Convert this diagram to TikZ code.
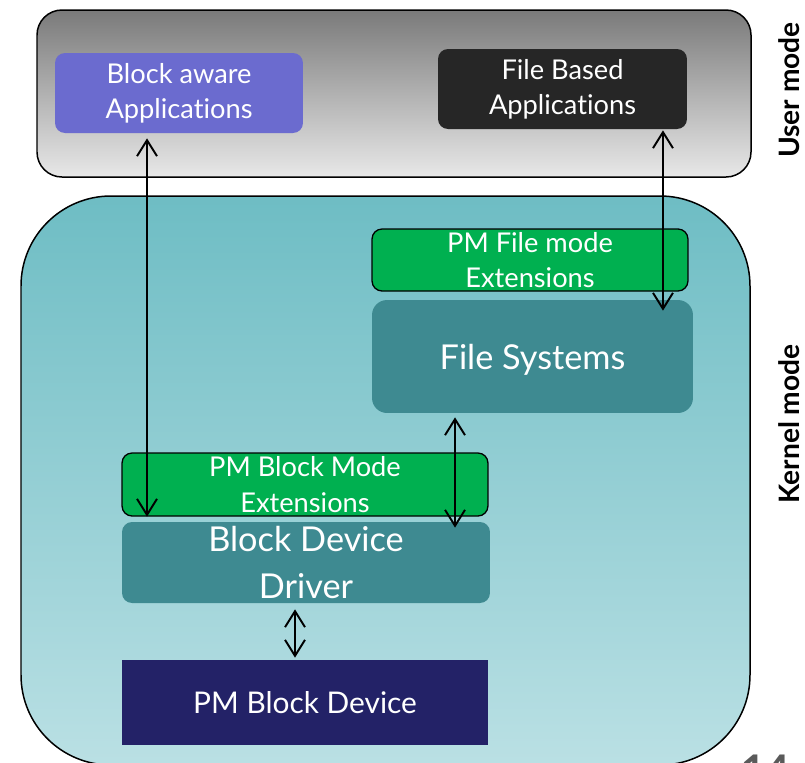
\documentclass[tikz,border=0pt]{standalone}
\usepackage{fontspec}
\setmainfont[Ligatures={NoCommon,NoRequired,NoContextual}]{Lato}
\usetikzlibrary{arrows.meta}

\definecolor{usrtop}{RGB}{122,122,122}
\definecolor{usrbot}{RGB}{232,232,232}
\definecolor{kertop}{RGB}{110,189,196}
\definecolor{kerbot}{RGB}{186,224,228}
\definecolor{appblue}{RGB}{107,107,207}
\definecolor{appdark}{RGB}{38,38,38}
\definecolor{pmgreen}{RGB}{0,176,80}
\definecolor{pmteal}{RGB}{62,138,145}
\definecolor{pmnavy}{RGB}{35,34,103}
\definecolor{slidegray}{RGB}{90,90,90}

\begin{document}
\begin{tikzpicture}
[x=0.02cm,y=-0.02cm,
modebox/.style={draw=black,line width=0.85pt},
block/.style={rectangle,rounded corners=0.2cm,text=white,align=center,inner sep=0pt},
appfont/.style={font=\fontsize{15.5}{20}\selectfont},
bigfont/.style={font=\fontsize{19.5}{26.5}\selectfont},
extbox/.style={block,fill=pmgreen,draw=black,line width=0.75pt,appfont},
modelabel/.style={font=\fontsize{16}{19}\selectfont\bfseries,rotate=90},
biarrow/.style={{Straight Barb[length=3.2mm,width=4mm]}-{Straight Barb[length=3.2mm,width=4mm]},line width=1.1pt}]
\useasboundingbox (0,0) rectangle (805,762);

% user mode and kernel mode layers
\draw[modebox,top color=usrtop,bottom color=usrbot,rounded corners=0.5cm] (37,10) rectangle (751,177);
\draw[modebox,top color=kertop,bottom color=kerbot,rounded corners=1.8cm] (21,196) rectangle (750,765);

% applications
\node[block,fill=appblue,appfont,minimum width=4.96cm,minimum height=1.6cm] (baware) at (179,93) {Block aware\\Applications};
\node[block,fill=appdark,appfont,minimum width=4.98cm,minimum height=1.6cm] (fbapp) at (562.5,89) {File Based\\Applications};

% file path
\node[extbox,minimum width=6.32cm,minimum height=1.24cm] (fmext) at (530,260) {PM File mode\\Extensions};
\node[block,fill=pmteal,bigfont,text depth=0pt,rounded corners=0.3cm,minimum width=6.42cm,minimum height=2.26cm] (fsys) at (532.5,356.5) {File Systems};

% block path
\node[extbox,minimum width=7.32cm,minimum height=1.26cm] (bmext) at (305,484.5) {PM Block Mode\\Extensions};
\node[block,fill=pmteal,bigfont,minimum width=7.36cm,minimum height=1.62cm] (bdd) at (306,562.5) {Block Device\\Driver};
\node[block,fill=pmnavy,rounded corners=0pt,font=\fontsize{17}{20}\selectfont,minimum width=7.32cm,minimum height=1.7cm] (pmbd) at (305,702.5) {PM Block Device};

% side labels
\node[modelabel] (usrlbl) at (789,90) {User mode};
\node[modelabel] (kerlbl) at (789,424) {Kernel mode};
\node[text=slidegray,anchor=north west,font=\fontsize{24}{28}\selectfont\bfseries] (slideno) at (735,749) {14};

% arrows
\coordinate (a1) at ([xshift=-0.64cm,yshift=-0.1cm]baware.south);
\coordinate (a2) at ([xshift=2.01cm,yshift=-0.02cm]fbapp.south);
\coordinate (a3) at ([xshift=-1.55cm,yshift=-0.08cm]fsys.south);
\coordinate (a4) at ([xshift=-0.22cm,yshift=-0.12cm]bdd.south);
\draw[biarrow] (a1) -- (a1 |- bmext.south);
\draw[biarrow] (a2) -- ([yshift=-0.22cm]a2 |- fsys.north);
\draw[biarrow] (a3) -- ([yshift=-0.12cm]a3 |- bdd.north);
\draw[biarrow] (a4) -- ([yshift=0.04cm]a4 |- pmbd.north);

\end{tikzpicture}
\end{document}
